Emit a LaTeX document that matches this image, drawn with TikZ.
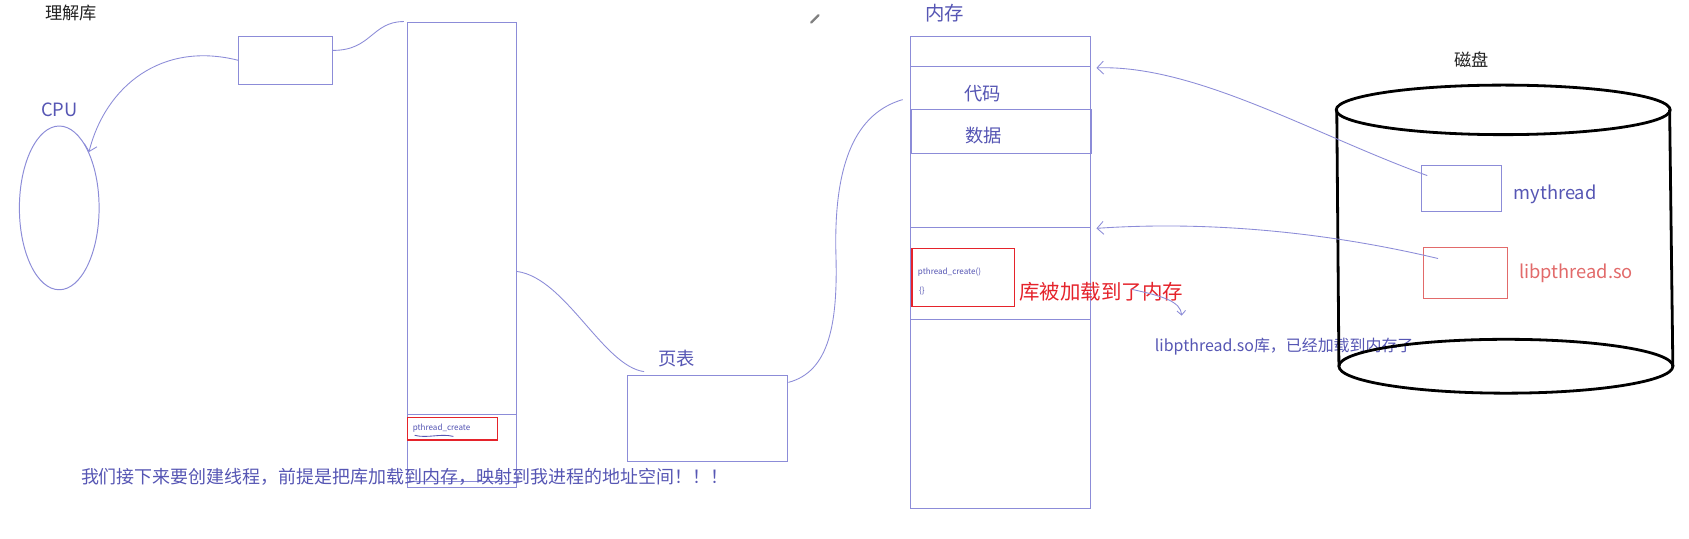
\documentclass[tikz,border=0pt]{standalone}
\usepackage{fontspec}
\setmainfont{Noto Sans CJK SC}
\usetikzlibrary{arrows.meta,positioning,calc,shapes.geometric}
\definecolor{PenBlue}{HTML}{8C8CD8}
\definecolor{InkBlue}{HTML}{5656B4}
\definecolor{MarkRed}{HTML}{E5232B}
\definecolor{SoftRed}{HTML}{E26A6A}
\definecolor{TitleGray}{HTML}{222222}
\tikzset{
  pen/.style={draw=PenBlue, line width=0.9pt},
  hand/.style={draw=PenBlue, line width=0.8pt},
  handarrow/.style={hand, -{Straight Barb[length=6pt,width=12pt]}},
  cell/.style={pen, inner sep=0pt, anchor=north west},
  redbox/.style={draw=MarkRed, line width=1.2pt, inner sep=0pt, anchor=north west},
  disk/.style={draw=black, line width=2.6pt},
  title/.style={font=\fontsize{16}{18}\selectfont, text=TitleGray, inner sep=0pt},
  tag/.style={font=\fontsize{17}{19}\selectfont, text=InkBlue, inner sep=0pt},
  redtag/.style={tag, text=MarkRed},
  tiny/.style={font=\fontsize{7.5}{9}\selectfont, text=InkBlue, inner sep=0pt},
}
\begin{document}
\begin{tikzpicture}[x=1pt,y=-1pt]
    \path[fill=white,use as bounding box] (0,0) rectangle (1568,500);
    % left side: cpu, register, process space
    \node[title] (lib) at (66,12) {理解库};
    \node[tag] (cpulabel) at (55,102) {CPU};
    \node[pen,ellipse,minimum width=74pt,minimum height=152pt] (cpu) at (55,193) {};
    \node[cell,minimum width=87pt,minimum height=45pt] (reg) at (221,33) {};
    \node[cell,minimum width=101pt,minimum height=432pt] (proc) at (378,20) {};
    \node[cell,minimum width=101pt,minimum height=63pt] (procsec) at (378,384) {};
    \node[redbox,minimum width=83pt,minimum height=21pt] (callsite) at (378,387) {};
    \node[tiny,anchor=west] (calltext) at ($(callsite.west)+(5,-1)$) {pthread\_create};
    \draw[hand,draw=InkBlue] ($(calltext.south west)+(2,3)$) .. controls +(12,3) and +(-12,-3) .. ($(calltext.south east)+(-16,4)$);
    \draw[handarrow] (reg.west) .. controls (150,38) and (98,80) .. (cpu.62);
    \draw[hand] ($(reg.north east)!0.3!(reg.south east)$) .. controls (345,47) and (345,20) .. ($(proc.north west)+(-3,0)$);
    % page table
    \node[cell,minimum width=149pt,minimum height=80pt] (ptab) at (582,348) {};
    \node[tag] (ptablabel) at (628,333) {页表};
    \draw[hand] ($(proc.north east)+(0,232)$) .. controls (525,258) and (560,340) .. ($(ptab.north west)+(16,-3)$);
    \draw[draw=gray, line width=2pt, line cap=round] (753,21) -- (760,14);
    % memory
    \node[tag,font=\fontsize{18}{20}\selectfont] (memlabel) at (877,12) {内存};
    \node[cell,minimum width=167pt,minimum height=439pt] (mem) at (845,33) {};
    \node[cell,minimum width=167pt,minimum height=40pt] (code) at (845,61) {};
    \node[cell,minimum width=167pt,minimum height=41pt,line width=1.3pt] (data) at (845,101) {};
    \node[cell,minimum width=167pt,minimum height=85pt] (librow) at (845,211) {};
    \node[tag] (codetext) at (912,87) {代码};
    \node[tag] (datatext) at (913,126) {数据};
    \node[redbox,minimum width=95pt,minimum height=54pt] (loadbox) at (846,230) {};
    \node[tiny,anchor=west] (loadfn) at ($(loadbox.west)+(6,-5)$) {pthread\_create()};
    \node[tiny,anchor=west] (loadbody) at ($(loadbox.west)+(7,13)$) {\{\}};
    \node[redtag,font=\fontsize{19}{21}\selectfont,anchor=west] (loaded) at ($(loadbox.east)+(4,13)$) {库被加载到了内存};
    \draw[hand] ($(ptab.north east)+(0,7)$) .. controls (770,345) and (778,300) .. (776,235)
      .. controls (774,150) and (795,105) .. ($(code.west)+(-7,11)$);
    \coordinate (tick) at (1097,293);
    \draw[handarrow,-{Straight Barb[length=4pt,width=8pt]}] ($(loaded.east)+(-48,-2)$) .. controls (1080,275) and (1096,280) .. (tick);
    \node[tag,font=\fontsize{14.8}{16}\selectfont,anchor=west] (done) at (1072,322) {libpthread.so库，已经加载到内存了};
    % disk
    \node[title] (disklabel) at (1366,55) {磁盘};
    \draw[disk] (1395.5,102) ellipse [x radius=155, y radius=23];
    \draw[disk] (1398,340) ellipse [x radius=155, y radius=25];
    \draw[disk] (1241,102) -- (1243,340);
    \draw[disk] (1550,102) -- (1553,340);
    \node[cell,minimum width=74pt,minimum height=43pt] (mybox) at (1319,153) {};
    \node[tag,anchor=west] (mytext) at (1405,180) {mythread};
    \node[cell,draw=SoftRed,minimum width=78pt,minimum height=48pt] (libbox) at (1321,229) {};
    \node[redtag,text=SoftRed,anchor=west] (libtext) at (1410,254) {libpthread.so};
    \draw[handarrow] ($(mybox.north west)+(6,10)$) .. controls (1220,125) and (1110,60) .. ($(mem.north east)+(5,30)$);
    \draw[handarrow] ($(libbox.north west)+(14,11)$) .. controls (1230,215) and (1120,205) .. ($(librow.north east)+(5,1)$);
    % bottom note
    \node[tag,font=\fontsize{16.7}{19}\selectfont,anchor=west] (plan) at (75,443) {我们接下来要创建线程，前提是把库加载到内存，映射到我进程的地址空间！！！};
  \end{tikzpicture}
\end{document}
